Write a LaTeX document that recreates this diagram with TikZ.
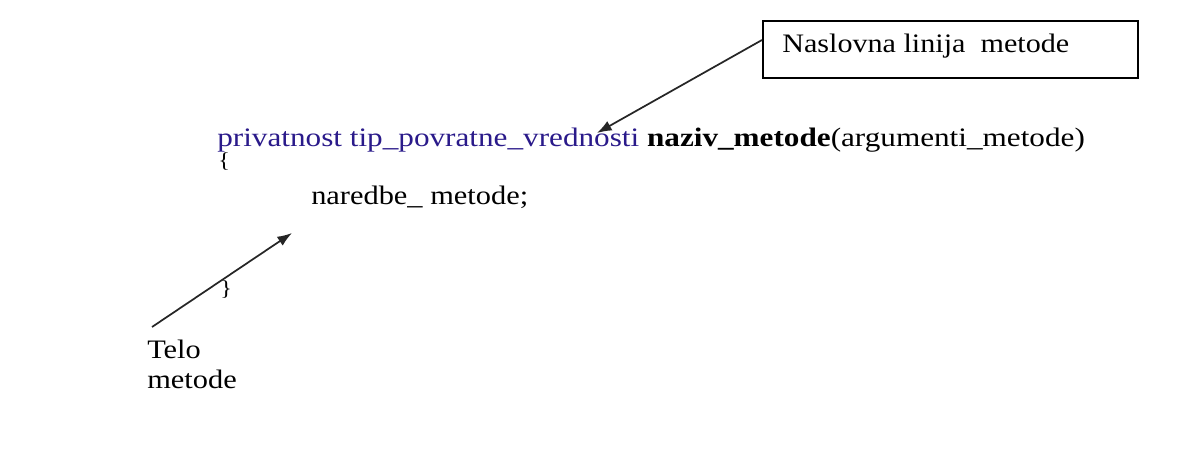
\documentclass[tikz,border=0pt]{standalone}
\usepackage{fontspec}
\setmainfont{Liberation Serif}
\usetikzlibrary{arrows.meta}
\definecolor{kwblue}{HTML}{2A1A8A}
\newcommand{\sx}[2][1.14]{\scalebox{#1}[1]{#2}}
\begin{document}
\begin{tikzpicture}[x=0.75pt,y=-0.75pt,
  txt/.style={anchor=base west,inner sep=0pt,font=\fontsize{20}{24}\selectfont},
  brace/.style={anchor=base west,inner sep=0pt,font=\fontsize{16}{19}\selectfont},
  callout/.style={draw=black,line width=1.2pt,minimum width=281.25pt,minimum height=42.75pt,inner sep=0pt},
  arr/.style={-{Latex[length=11pt,width=8pt]},line width=1.3pt,black!85}]
\useasboundingbox (0,0) rectangle (1204,459);
\node[callout,anchor=north west] (box) at (762,20) {};
\node[txt] (boxlbl) at (782,53) {\sx[1.13]{Naslovna linija\ \ metode}};
\node[txt] (head) at (217,147) {\sx[1.17]{\textcolor{kwblue}{privatnost tip\_povratne\_vrednosti} \textbf{naziv\_metode}(argumenti\_metode)}};
\node[brace] (lbrace) at (218,168) {\sx{\{}};
\node[txt] (body) at (311,205) {\sx[1.14]{naredbe\_ metode;}};
\node[brace] (rbrace) at (220,296) {\sx{\}}};
\node[txt] (telo) at (147,359) {\sx{Telo}};
\node[txt] (metode) at (147,389) {\sx{metode}};
\coordinate (a1s) at (762,40);
\coordinate (a1e) at (597,133);
\coordinate (a2s) at (152,327);
\coordinate (a2e) at (292,233);
\draw[arr] (a1s) -- (a1e);
\draw[arr] (a2s) -- (a2e);
\end{tikzpicture}
\end{document}
